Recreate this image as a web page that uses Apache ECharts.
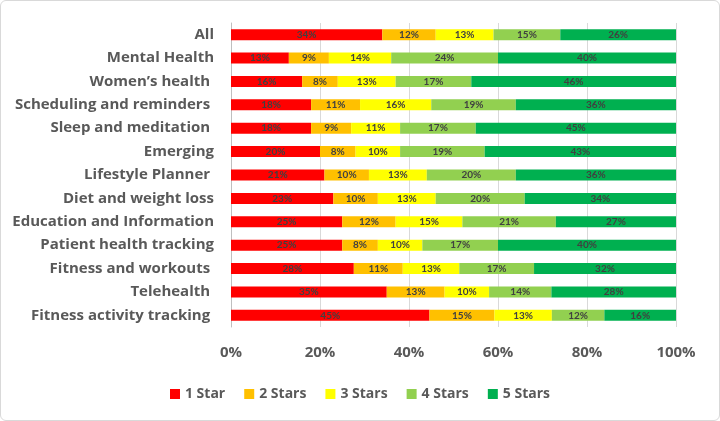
<!DOCTYPE html>
<html>
<head>
<meta charset="utf-8">
<script src="https://cdn.jsdelivr.net/npm/echarts@6/dist/echarts.min.js"></script>
<style>
html,body{margin:0;padding:0;background:#fff;}
#c{width:720px;height:421px;box-sizing:border-box;border:1px solid #d9d9d9;border-radius:6px;}
</style>
</head>
<body>
<div id="c"></div>
<script>
const categories = ["All","Mental Health","Women\u2019s health ","Scheduling and reminders ","Sleep and meditation ","Emerging","Lifestyle Planner ","Diet and weight loss","Education and Information","Patient health tracking","Fitness and workouts ","Telehealth ","Fitness activity tracking "];
const seriesNames = ["1 Star","2 Stars","3 Stars","4 Stars","5 Stars"];
const star1 = [34,13,16,18,18,20,21,23,25,25,27.6,35,44.6];
const star2 = [12,9,8,11,9,8,10,10,12,8,11.0,13,14.6];
const star3 = [13,14,13,16,11,10,13,13,15,10,12.7,10,12.9];
const star4 = [15,24,17,19,17,19,20,20,21,17,16.8,14,11.8];
const star5 = [26,40,46,36,45,43,36,34,27,40,31.9,28,16.1];
const xTicks = [0,20,40,60,80,100];
const colors = ["#FF0000","#FFC000","#FFFF00","#92D050","#00B050"];
const allData = [star1,star2,star3,star4,star5];

const chart = echarts.init(document.getElementById('c'));
const FONT = 'Open Sans';
chart.setOption({
  animation:false,
  grid:{left:230,right:43,top:22,bottom:93,containLabel:false},
  legend:{
    data:seriesNames,bottom:14,left:'center',itemWidth:10,itemHeight:10,itemGap:19,icon:'rect',
    textStyle:{fontFamily:FONT,fontWeight:'bold',fontSize:14,color:'#595959'}
  },
  xAxis:{
    type:'value',min:0,max:100,interval:20,
    axisLine:{show:false},axisTick:{show:false},
    splitLine:{show:true,lineStyle:{color:'#D9D9D9',width:1}},
    axisLabel:{margin:18,formatter:v=>v+'%',fontFamily:FONT,fontWeight:'bold',fontSize:15,color:'#595959'}
  },
  yAxis:{
    type:'category',data:categories,inverse:true,
    axisLine:{show:true,lineStyle:{color:'#BFBFBF'}},axisTick:{show:false},
    axisLabel:{margin:17,fontFamily:FONT,fontWeight:'bold',fontSize:15,color:'#595959'}
  },
  series:allData.map((d,i)=>({
    name:seriesNames[i],type:'bar',stack:'total',data:d,barWidth:11,
    itemStyle:{color:colors[i]},
    label:{show:true,position:'inside',formatter:p=>Math.round(p.value)+'%',
      fontFamily:'Lato',fontWeight:'bold',fontSize:10,color:'#404040'}
  }))
});
</script>
</body>
</html>
